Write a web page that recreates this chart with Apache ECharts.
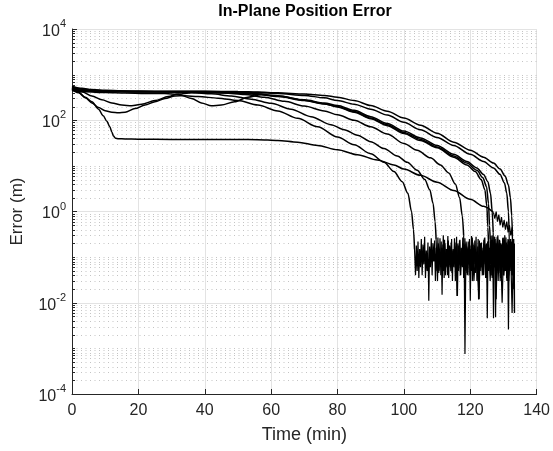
<!DOCTYPE html>
<html>
<head>
<meta charset="utf-8">
<script src="https://cdn.jsdelivr.net/npm/echarts@6/dist/echarts.min.js"></script>
<style>html,body{margin:0;padding:0;background:#fff}#c{width:553px;height:451px}</style>
</head>
<body>
<div id="c"></div>
<script>
// ---- data (time in min, error in m) ----
const xTicks = [0, 20, 40, 60, 80, 100, 120, 140];
const yTickExp = [-4, -2, 0, 2, 4];
const minorMult = [2, 3, 4, 5, 6, 7, 8, 9];
const minorDecades = [-4, -3, -2, -1, 0, 1, 2, 3];
const oddDecades = [1e-3, 1e-1, 1e1, 1e3];
const titleText = 'In-Plane Position Error';

const curveT1 = [[0,560],[3,500],[6,470],[10,455],[15,440],[20,435],[30,430],[40,430],[50,425],[56,415],[62,400],[70,375],[76,350],[80,320],[85,270],[90,210],[95,158],[100,112],[105,78],[110,52],[115,33],[120,22],[124,15.5],[127,11.5],[129,8.5],[130.5,6],[131.5,3.8],[132.1,2],[132.5,0.8],[132.7,0.3]];
const noiseT1 = [[132.7,0.3],[132.9,0.08],[133.1,0.25],[133.3,0.006]];

const curveT2 = [[0,520],[3,480],[6,455],[10,440],[15,430],[20,428],[30,425],[40,425],[50,418],[56,405],[62,385],[70,350],[76,310],[80,270],[85,225],[90,175],[95,130],[100,90],[105,62],[110,42],[115,28],[120,18],[124,12.5],[127,9],[129,6.5],[130.3,4.2],[131,2.5],[131.5,1],[131.7,0.35]];
const noiseT2 = [[131.7,0.35],[131.9,0.06],[132.2,0.25],[132.5,0.04],[132.8,0.2],[133.1,0.05],[133.3,0.15]];

const curveK1 = [[0,500],[4,450],[10,430],[20,420],[30,420],[40,415],[50,400],[56,380],[62,340],[70,280],[76,240],[80,210],[85,165],[90,120],[95,85],[100,58],[105,41],[110,28],[115,18],[119,12.5],[122,9],[124,6.5],[125.3,4.5],[126.1,2.5],[126.6,1],[126.9,0.35]];
const noiseK1 = [[126.9,0.35],[127.1,0.06],[127.5,0.25],[127.9,0.04],[128.3,0.3],[128.7,0.07],[129.1,0.2],[129.5,0.035],[129.9,0.27],[130.3,0.05],[130.7,0.18],[131.1,0.03],[131.5,0.24],[131.9,0.06],[132.3,0.2],[132.7,0.04],[133,0.15]];

const curveK2 = [[0,480],[4,440],[10,425],[20,415],[30,415],[40,410],[50,392],[56,370],[62,330],[70,270],[76,228],[80,200],[85,155],[90,112],[95,80],[100,54],[105,38],[110,26],[115,16.5],[119,11.5],[122,8],[123.8,5.5],[124.9,3.5],[125.5,1.5],[125.8,0.5],[126,0.25]];
const noiseK2 = [[126,0.25],[126.2,0.08],[126.6,0.3],[127,0.05],[127.4,0.2],[127.8,0.012],[128.2,0.22],[128.6,0.05],[129,0.16],[129.4,0.04],[129.8,0.26],[130.2,0.06],[130.6,0.14],[131,0.035],[131.4,0.22],[131.8,0.05],[132.2,0.17],[132.6,0.07],[133,0.2]];

const curveD = [[0,450],[4,420],[10,405],[16,395],[22,388],[28,385],[32,370],[36,300],[39,240],[42,207],[45,215],[49,255],[53,320],[57,360],[62,345],[70,275],[76,230],[80,195],[85,150],[90,108],[95,76],[100,51],[105,36],[110,25],[115,15.5],[119,10.5],[121.5,7.5],[123.3,5],[124.4,3],[125,1.3],[125.3,0.45],[125.5,0.2]];
const noiseD = [[125.5,0.2],[125.7,0.1],[126,0.03],[126.4,0.22],[126.8,0.045],[127.2,0.28],[127.6,0.06],[128,0.18],[128.4,0.03],[128.8,0.24],[129.2,0.055],[129.6,0.2],[130,0.04],[130.4,0.3],[130.8,0.07],[131.2,0.16],[131.6,0.03],[132,0.22],[132.4,0.05],[132.8,0.25],[133,0.06]];

const curveC = [[0,490],[3,420],[6,340],[9,280],[12,240],[15,215],[18,208],[21,225],[25,270],[29,330],[32,375],[36,400],[40,405],[46,395],[52,365],[58,320],[64,260],[70,205],[76,160],[80,132],[85,100],[90,72],[95,50],[100,31],[104,22],[108,15],[111,10.5],[113.5,7],[115.5,4],[116.8,2],[117.6,0.8],[118,0.3]];
const noiseC = [[118,0.3],[118.2,0.05],[118.4,0.00075],[118.7,0.2],[119.1,0.04],[119.6,0.16],[120.1,0.06],[120.6,0.27],[121.1,0.03],[121.6,0.14],[122.1,0.08],[122.6,0.012],[123.1,0.2],[123.6,0.05],[124.1,0.24],[124.6,0.04],[125.1,0.17],[125.6,0.07],[126.1,0.22],[126.6,0.035],[127.1,0.15],[127.6,0.06],[128.1,0.28],[128.6,0.045],[129.1,0.19],[129.6,0.01],[130.1,0.23],[130.6,0.05],[131.1,0.16],[131.6,0.04],[132.1,0.25],[132.6,0.006],[133,0.2]];

const curveE2 = [[0,540],[4,470],[10,445],[20,425],[30,418],[36,405],[42,380],[48,340],[54,290],[60,235],[66,175],[72,120],[78,80],[82,62],[86,47],[90,34],[94,24],[98,16.5],[101,12],[104,8],[106.3,5],[107.8,3],[108.8,1.5],[109.4,0.6],[109.7,0.25]];
const noiseE2 = [[109.7,0.25],[109.9,0.1],[110.125,0.03],[110.375,0.2],[110.625,0.05],[110.875,0.26],[111.125,0.04],[111.375,0.16],[111.625,0.07],[111.875,0.3],[112.125,0.035],[112.375,0.2],[112.625,0.06],[112.875,0.13],[113.125,0.04],[113.375,0.23],[113.625,0.08],[113.875,0.17],[114.125,0.05],[114.375,0.25],[114.625,0.03],[114.875,0.15],[115.125,0.06],[115.375,0.21],[115.625,0.045],[115.875,0.28],[116.125,0.014],[116.375,0.18],[116.625,0.07],[116.875,0.24],[117.125,0.04],[117.375,0.14],[117.625,0.06],[117.875,0.2],[118.125,0.035],[118.375,0.26],[118.625,0.05],[118.875,0.17],[119.125,0.08],[119.375,0.22],[119.625,0.04],[119.875,0.15],[120.125,0.06],[120.375,0.29],[120.625,0.03],[120.875,0.19],[121.125,0.07],[121.375,0.23],[121.625,0.045],[121.875,0.13],[122.125,0.05],[122.375,0.25],[122.625,0.012],[122.875,0.18],[123.125,0.06],[123.375,0.21],[123.625,0.04],[123.875,0.16],[124.125,0.08],[124.375,0.27],[124.625,0.035],[124.875,0.2],[125.125,0.0046],[125.375,0.22],[125.625,0.05],[125.875,0.15],[126.125,0.07],[126.375,0.24],[126.625,0.04],[126.875,0.18],[127.125,0.06],[127.375,0.28],[127.625,0.0048],[127.875,0.2],[128.125,0.05],[128.375,0.16],[128.625,0.08],[128.875,0.23],[129.125,0.035],[129.375,0.19],[129.625,0.06],[129.875,0.26],[130.125,0.04],[130.375,0.14],[130.625,0.07],[130.875,0.21],[131.125,0.03],[131.375,0.25],[131.625,0.05],[131.875,0.17],[132.125,0.08],[132.375,0.22],[132.625,0.04],[132.875,0.19],[133.125,0.05],[133.3,0.2]];

const curveB = [[0,470],[2,400],[4,310],[6,240],[8,190],[10,162],[12,150],[14,146],[16,150],[19,180],[22,215],[25,255],[28,300],[31,340],[34,345],[38,330],[44,305],[50,270],[56,215],[62,160],[68,110],[74,72],[80,43],[85,29],[90,18.5],[94,12],[97,7.5],[99.5,4.5],[101.2,2.5],[102.3,1],[102.9,0.4],[103.2,0.15]];
const noiseB = [[103.2,0.15],[103.5,0.04],[103.75,0.18],[104,0.05],[104.25,0.22],[104.5,0.035],[104.75,0.15],[105,0.06],[105.25,0.25],[105.5,0.04],[105.75,0.19],[106,0.07],[106.25,0.28],[106.5,0.035],[106.75,0.14],[107,0.05],[107.25,0.21],[107.5,0.011],[107.75,0.17],[108,0.06],[108.25,0.26],[108.5,0.04],[108.75,0.2],[109,0.08],[109.25,0.23],[109.5,0.03],[109.75,0.16],[110,0.05],[110.25,0.27],[110.5,0.045],[110.75,0.13],[111,0.07],[111.25,0.22],[111.5,0.015],[111.75,0.19],[112,0.05],[112.25,0.24],[112.5,0.04],[112.75,0.15],[113,0.09],[113.25,0.29],[113.5,0.035],[113.75,0.18],[114,0.06],[114.25,0.21],[114.5,0.045],[114.75,0.14],[115,0.07],[115.25,0.26],[115.5,0.03],[115.75,0.17],[116,0.014],[116.25,0.2],[116.5,0.05],[116.75,0.23],[117,0.04],[117.25,0.16],[117.5,0.08],[117.75,0.27],[118,0.035],[118.25,0.19],[118.5,0.06],[118.75,0.22],[119,0.045],[119.25,0.13],[119.5,0.07],[119.75,0.25],[120,0.011],[120.25,0.18],[120.5,0.05],[120.75,0.21],[121,0.04],[121.25,0.15],[121.5,0.08],[121.75,0.28],[122,0.03],[122.25,0.17],[122.5,0.012],[122.75,0.23],[123,0.05],[123.25,0.2],[123.5,0.06],[123.75,0.14],[124,0.04],[124.25,0.26],[124.5,0.07],[124.75,0.19],[125,0.035],[125.25,0.22],[125.5,0.05],[125.75,0.16],[126,0.08],[126.25,0.29],[126.5,0.04],[126.75,0.18],[127,0.0046],[127.25,0.21],[127.5,0.06],[127.75,0.15],[128,0.045],[128.25,0.25],[128.5,0.07],[128.75,0.2],[129,0.03],[129.25,0.17],[129.5,0.06],[129.75,0.23],[130,0.04],[130.25,0.14],[130.5,0.08],[130.75,0.27],[131,0.035],[131.25,0.19],[131.5,0.0026],[131.75,0.22],[132,0.05],[132.25,0.16],[132.5,0.07],[132.75,0.24],[133,0.04],[133.25,0.18],[133.35,0.006]];

const curveS = [[0,500],[2,410],[4,320],[6,255],[8,175],[9.4,125],[10.5,95],[11.4,72],[12,55],[12.5,45],[13.1,40.5],[14,39.5],[16,39],[20,38.5],[30,38],[40,38],[50,38],[56,37.5],[62,36],[68,33],[74,28],[80,22.5],[86,17.5],[92,13.5],[97,10.5],[100,8.5],[105,6.2],[110,4.4],[115,2.9],[120,1.85],[124,1.3],[127,0.95]];
const noiseS = [[127,0.95],[127.4,0.7],[127.8,1.0],[128.2,0.6],[128.6,0.85],[129,0.5],[129.4,0.75],[129.8,0.45],[130.2,0.65],[130.6,0.4],[131,0.6],[131.4,0.35],[131.8,0.5],[132.2,0.3],[132.6,0.45],[132.9,0.08],[133.1,0.02]];

const curves = [curveT1, curveT2, curveK1, curveK2, curveD, curveC, curveE2, curveB, curveS];
const noises = [noiseT1, noiseT2, noiseK1, noiseK2, noiseD, noiseC, noiseE2, noiseB, noiseS];

// minor grid values (decoration)
const minorGrid = minorDecades.flatMap(d => minorMult.map(k => k * Math.pow(10, d))).concat(oddDecades);

const FONT = '"Liberation Sans", Arial, Helvetica, sans-serif';
const AX = '#262626';

const series = [];
series.push({
  type: 'custom', silent: true, z: 1,
  data: minorGrid.map(v => [0, v]),
  encode: { x: 0, y: 1 },
  renderItem: function (params, api) {
    const v = api.value(1);
    const p0 = api.coord([0, v]);
    const p1 = api.coord([140, v]);
    const y = Math.round(p0[1]) + 0.5;
    return { type: 'group', children: [
      { type: 'line', shape: { x1: p0[0], y1: y, x2: p1[0], y2: y }, style: { stroke: '#c4c4c4', lineWidth: 1, lineDash: [1, 3.5] } },
      { type: 'line', shape: { x1: p0[0], y1: y, x2: p0[0] + 3, y2: y }, style: { stroke: AX, lineWidth: 1 } }
    ]};
  }
});
curves.forEach(c => series.push({
  type: 'line', data: c, showSymbol: false, smooth: 0.3, smoothMonotone: 'x',
  lineStyle: { color: '#000', width: 1.5 }, z: 3, silent: true
}));
noises.forEach(n => series.push({
  type: 'line', data: n, showSymbol: false, smooth: false,
  lineStyle: { color: '#000', width: 1.2 }, z: 3, silent: true
}));

const chart = echarts.init(document.getElementById('c'), null, { renderer: 'canvas' });
chart.setOption({
  animation: false,
  backgroundColor: '#fff',
  graphic: [{
    type: 'text', x: 305, y: 12, silent: true,
    style: { text: titleText, x: 0, y: 0, align: 'center', verticalAlign: 'middle',
      font: 'bold 16px ' + FONT, fill: '#000' }
  }],
  grid: { left: 72, right: 15, top: 29, bottom: 57, containLabel: false },
  xAxis: {
    type: 'value', min: xTicks[0], max: xTicks[xTicks.length - 1], interval: 20,
    axisLine: { show: true, lineStyle: { color: AX, width: 1 } },
    axisTick: { show: true, inside: true, length: 5, lineStyle: { color: AX } },
    axisLabel: { fontSize: 16, color: AX, margin: 9, fontFamily: FONT },
    splitLine: { show: true, lineStyle: { color: '#e3e3e3', width: 1 } },
    name: 'Time (min)', nameLocation: 'middle', nameGap: 32,
    nameTextStyle: { fontSize: 18, color: AX, fontFamily: FONT }
  },
  yAxis: {
    type: 'log', logBase: 10, min: Math.pow(10, yTickExp[0]), max: Math.pow(10, yTickExp[yTickExp.length - 1]), interval: 2,
    axisLine: { show: true, lineStyle: { color: AX, width: 1 } },
    axisTick: { show: true, inside: true, length: 5, lineStyle: { color: AX } },
    axisLabel: {
      margin: 6, color: AX, fontFamily: FONT,
      formatter: function (v) { const e = Math.round(Math.log10(v)); return '{b|10}{s|' + e + '}'; },
      rich: {
        b: { fontSize: 16, color: AX, fontFamily: FONT, lineHeight: 21, verticalAlign: 'bottom' },
        s: { fontSize: 11, color: AX, fontFamily: FONT, lineHeight: 21, verticalAlign: 'top' }
      }
    },
    splitLine: { show: true, lineStyle: { color: '#e3e3e3', width: 1 } },
    name: 'Error (m)', nameLocation: 'middle', nameGap: 46,
    nameTextStyle: { fontSize: 17, color: AX, fontFamily: FONT }
  },
  series: series
});
</script>
</body>
</html>
